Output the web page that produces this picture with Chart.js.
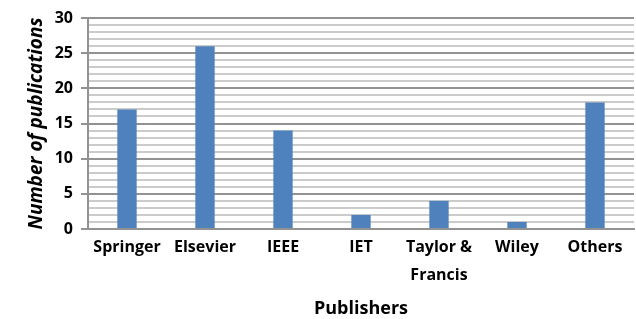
<!DOCTYPE html>
<html>
<head>
<meta charset="utf-8">
<script src="https://cdn.jsdelivr.net/npm/chart.js@4/dist/chart.umd.min.js"></script>
<style>
  body { margin: 0; background: #fff; }
  #wrap { width: 636px; height: 319px; position: relative; }
</style>
</head>
<body>
<div id="wrap"><canvas id="pubChart"></canvas></div>
<script>
// Chart data
var publishers = ['Springer', 'Elsevier', 'IEEE', 'IET', ['Taylor &', 'Francis'], 'Wiley', 'Others'];
var publicationCounts = [17, 26, 14, 2, 4, 1, 18];
var yTickLabels = [0, 5, 10, 15, 20, 25, 30];

// Colors for major (every 5) and minor (every 1) grid lines.
var majorGrid = '#929292';
var minorGrid = '#cbcbcb';

function isMajor(value) {
    return yTickLabels.indexOf(value) !== -1;
}

Chart.defaults.font.family = 'Open Sans';
Chart.defaults.color = '#000';

var ctx = document.getElementById('pubChart').getContext('2d');
var chart = new Chart(ctx, {
    type: 'bar',
    data: {
        labels: publishers,
        datasets: [{
            data: publicationCounts,
            backgroundColor: '#4f81bd',
            borderWidth: 0,
            barPercentage: 0.248,
            categoryPercentage: 1
        }]
    },
    options: {
        responsive: true,
        maintainAspectRatio: false,
        animation: false,
        layout: { padding: { top: 18, right: 2, left: 0, bottom: 0 } },
        plugins: {
            legend: { display: false },
            tooltip: { enabled: false }
        },
        scales: {
            x: {
                grid: { display: false, drawTicks: false },
                border: { display: true, color: majorGrid, width: 2 },
                ticks: {
                    padding: 4,
                    maxRotation: 0,
                    autoSkip: false,
                    font: { size: 16, weight: 'bold', lineHeight: 1.75 }
                },
                title: {
                    display: true,
                    text: 'Publishers',
                    font: { size: 18, weight: 'bold', lineHeight: 1.1 },
                    padding: { top: 0, bottom: 0 }
                },
                afterFit: function (scale) { scale.height = 90; }
            },
            y: {
                min: 0,
                max: 30,
                grid: {
                    lineWidth: 2,
                    tickLength: 7,
                    color: function (c) { return isMajor(c.tick.value) ? majorGrid : minorGrid; },
                    tickColor: function (c) { return isMajor(c.tick.value) ? majorGrid : 'rgba(0,0,0,0)'; }
                },
                border: { display: true, color: majorGrid, width: 2 },
                ticks: {
                    stepSize: 1,
                    padding: 8,
                    autoSkip: false,
                    font: { size: 16, weight: 'bold' },
                    callback: function (value) { return isMajor(value) ? value : ''; }
                },
                title: {
                    display: true,
                    text: 'Number of publications',
                    font: { size: 19, weight: 'bold', style: 'italic' },
                    padding: { top: 25, bottom: 0 }
                },
                afterFit: function (scale) { scale.width = 88; }
            }
        }
    }
});
</script>
</body>
</html>
